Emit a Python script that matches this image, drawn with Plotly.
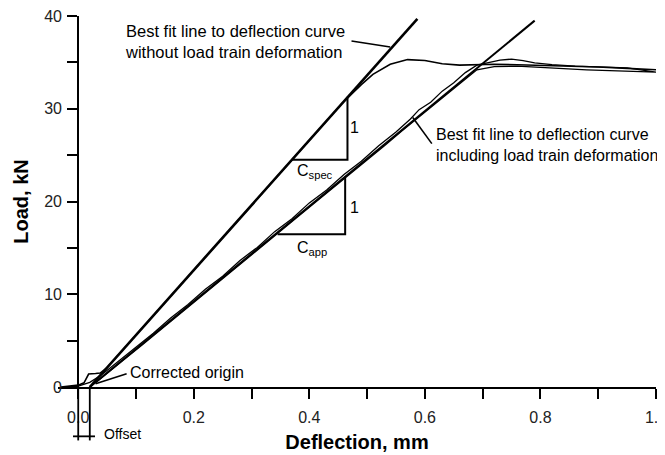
import plotly.graph_objects as go

# ---------------- data ----------------
# best-fit lines
fit_spec_x = [0.02, 0.587]
fit_spec_y = [0.0, 39.7]
fit_app_x = [0.02, 0.79]
fit_app_y = [0.0, 39.5]

# deflection curve without load-train deformation (specimen)
spec_x = [-0.03, -0.01, 0.0, 0.010, 0.014, 0.018, 0.030, 0.038, 0.05, 0.10, 0.20, 0.30,
          0.40, 0.46, 0.49, 0.51, 0.54, 0.57, 0.60, 0.63, 0.66, 0.69, 0.72, 0.76,
          0.80, 0.85, 0.90, 0.95, 1.0]
spec_y = [0.0, 0.1, 0.2, 0.45, 0.9, 1.4, 1.45, 1.5, 2.1, 5.6, 12.6, 19.6,
          26.6, 30.8, 32.6, 33.7, 34.8, 35.3, 35.2, 34.85, 34.7, 34.75, 34.8, 34.75,
          34.7, 34.6, 34.5, 34.35, 34.2]

# deflection curve including load-train deformation (apparent)
app_x = [0.0, 0.02, 0.04, 0.07, 0.10, 0.13, 0.16, 0.19, 0.22, 0.25, 0.28, 0.31, 0.34,
         0.37, 0.40, 0.43, 0.46, 0.49, 0.52, 0.55, 0.575, 0.59, 0.61, 0.63, 0.65,
         0.67, 0.69, 0.71, 0.73, 0.75, 0.77, 0.79, 0.82, 0.86, 0.90, 0.95, 1.0,
         0.96, 0.92, 0.88, 0.84, 0.80, 0.76, 0.72, 0.69, 0.665, 0.64, 0.615, 0.59,
         0.56, 0.53, 0.50, 0.47, 0.44, 0.41, 0.38, 0.35, 0.32, 0.29, 0.26, 0.23,
         0.20, 0.17, 0.14, 0.11, 0.08, 0.05, 0.03]
app_y = [0.1, 0.5, 1.3, 2.8, 4.35, 5.8, 7.45, 8.9, 10.55, 11.95, 13.65, 15.05, 16.75,
         18.15, 19.85, 21.25, 22.9, 24.35, 26.0, 27.5, 28.9, 29.9, 30.7, 31.9, 32.8,
         33.9, 34.7, 35.0, 35.25, 35.35, 35.2, 34.95, 34.75, 34.6, 34.5, 34.4, 33.95,
         34.0, 34.1, 34.2, 34.35, 34.5, 34.6, 34.55, 34.2, 32.95, 31.7, 30.35, 29.1,
         27.6, 26.0, 24.5, 22.95, 21.45, 19.9, 18.35, 16.8, 15.3, 13.7, 12.2, 10.65,
         9.1, 7.6, 6.0, 4.5, 3.0, 1.45, 0.45]

# compliance triangles
tri_spec_x = [0.37, 0.466, 0.466]
tri_spec_y = [24.5, 24.5, 31.3]
tri_app_x = [0.345, 0.462, 0.462]
tri_app_y = [16.46, 16.46, 22.7]

x_tick_vals = [0.0, 0.2, 0.4, 0.6, 0.8, 1.0]
x_tick_text = ["0.0", "0.2", "0.4", "0.6", "0.8", "1.0"]
x_minor_vals = [0.1, 0.3, 0.5, 0.7, 0.9]
y_tick_vals = [0, 10, 20, 30, 40]
y_tick_text = ["0", "10", "20", "30", "40"]
y_minor_vals = [5, 15, 25, 35]

X_RANGE = [-0.035, 1.0]
Y_RANGE = [0, 40]

FONT = "Liberation Sans, Arial, Helvetica, sans-serif"
PAGE_PAD = 8  # default body margin of the html page

# ---------------- figure ----------------
fig = go.Figure()

fig.add_trace(go.Scatter(x=spec_x, y=spec_y, mode="lines",
                         line=dict(color="black", width=1.6), hoverinfo="skip"))
fig.add_trace(go.Scatter(x=app_x, y=app_y, mode="lines",
                         line=dict(color="black", width=1.3), hoverinfo="skip"))
fig.add_trace(go.Scatter(x=fit_spec_x, y=fit_spec_y, mode="lines",
                         line=dict(color="black", width=2.6), hoverinfo="skip"))
fig.add_trace(go.Scatter(x=fit_app_x, y=fit_app_y, mode="lines",
                         line=dict(color="black", width=2.0), hoverinfo="skip"))
fig.add_trace(go.Scatter(x=tri_spec_x, y=tri_spec_y, mode="lines",
                         line=dict(color="black", width=2.0), hoverinfo="skip"))
fig.add_trace(go.Scatter(x=tri_app_x, y=tri_app_y, mode="lines",
                         line=dict(color="black", width=2.0), hoverinfo="skip"))


def note(x, y, text, xanchor="left", size=16, yref="y"):
    fig.add_annotation(x=x, y=y, xref="x", yref=yref, text=text, showarrow=False,
                       xanchor=xanchor, yanchor="middle", align="left",
                       font=dict(family=FONT, size=size, color="black"))


note(0.078, 37.2, "Best fit line to deflection curve<br>without load train deformation", size=16.5)
note(0.615, 26.1, "Best fit line to deflection curve<br>including load train deformation", size=16)
note(0.086, 1.6, "Corrected origin")
note(0.479, 28.0, "1", xanchor="center")
note(0.479, 19.4, "1", xanchor="center")
note(0.41, 23.2, "C<sub>spec</sub>", xanchor="center")
note(0.405, 14.9, "C<sub>app</sub>", xanchor="center")
note(0.042, -0.128, "Offset", size=14, yref="paper")


def seg(x0, y0, x1, y1, yref="y", w=1.6):
    fig.add_shape(type="line", x0=x0, y0=y0, x1=x1, y1=y1, xref="x", yref=yref,
                  line=dict(color="black", width=w))


# pointer lines
seg(0.473, 37.3, 0.54, 36.66)
seg(0.612, 26.24, 0.579, 29.05)
seg(0.0838, 1.44, 0.03, 0.35)
# offset markers below axis
seg(0.0, 0.0, 0.0, -0.144, yref="paper", w=1.8)
seg(0.02, 0.0, 0.02, -0.144, yref="paper", w=1.8)
seg(-0.009, -0.133, 0.029, -0.133, yref="paper", w=1.8)

ypos = (0 - X_RANGE[0]) / (X_RANGE[1] - X_RANGE[0])
tick_font = dict(family=FONT, size=16, color="#222")
title_font = dict(family=FONT, size=20, color="black")

fig.update_layout(
    width=665 - PAGE_PAD, height=455 - PAGE_PAD,
    margin=dict(l=58.1 - PAGE_PAD, r=9.3, t=15.7 - PAGE_PAD, b=68.3),
    paper_bgcolor="white", plot_bgcolor="white",
    showlegend=False,
    xaxis=dict(range=X_RANGE, tickvals=x_tick_vals, ticktext=x_tick_text,
               ticks="outside", ticklen=10, tickwidth=2, tickcolor="black",
               ticklabelstandoff=5, ticklabeloverflow="allow",
               showline=True, linecolor="black", linewidth=2,
               showgrid=False, zeroline=False, automargin=False,
               minor=dict(tickvals=x_minor_vals, ticks="outside", ticklen=10,
                          tickwidth=2, tickcolor="black", showgrid=False),
               tickfont=tick_font,
               title=dict(text="<b>Deflection, mm</b>", font=title_font, standoff=10)),
    yaxis=dict(range=Y_RANGE, anchor="free", position=ypos,
               tickvals=y_tick_vals, ticktext=y_tick_text,
               ticks="outside", ticklen=10, tickwidth=2, tickcolor="black",
               ticklabelstandoff=2, ticklabeloverflow="allow",
               showline=True, linecolor="black", linewidth=2,
               showgrid=False, zeroline=False, automargin=False,
               minor=dict(tickvals=y_minor_vals, ticks="outside", ticklen=10,
                          tickwidth=2, tickcolor="black", showgrid=False),
               tickfont=tick_font,
               title=dict(text="<b>Load, kN</b>", font=title_font, standoff=9)),
)

fig.write_html("out.html")
